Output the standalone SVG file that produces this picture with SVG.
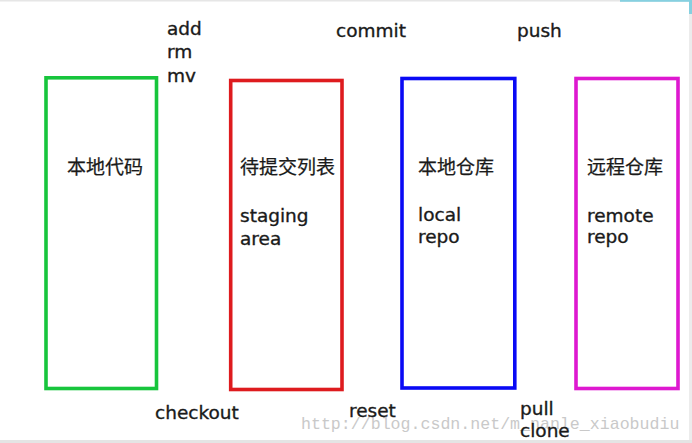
<svg xmlns="http://www.w3.org/2000/svg" width="692" height="443" viewBox="0 0 692 443">
<style>
.box{fill:none;stroke-width:3.6}
.t{font-family:"DejaVu Sans","Noto Sans CJK SC",sans-serif;font-size:18.5px;fill:#1a1a1a;stroke:#1a1a1a;stroke-width:0.35}
.c{font-family:"Noto Sans CJK SC","DejaVu Sans",sans-serif;font-size:19px;fill:#1a1a1a;stroke:#1a1a1a;stroke-width:0.25}
.wm{font-family:"Liberation Mono",monospace;font-size:16.6px;fill:#c9c9c9}
</style>
<rect x="0" y="0" width="692" height="443" fill="#ffffff"/>
<rect x="0" y="0" width="692" height="1.5" fill="#e6e6e6"/>
<rect x="620" y="0" width="72" height="1.8" fill="#86d0e0"/>
<rect x="689" y="0" width="3" height="14" fill="#86d0e0"/>
<rect x="689" y="14" width="3" height="429" fill="#ececec"/>
<rect x="0" y="440" width="692" height="3" fill="#e4e4e4"/>
<g id="local-code">
<rect class="box" x="46" y="77.8" width="110.5" height="310.7" stroke="#17c53c"/>
<text class="c" x="67" y="174">本地代码</text>
</g>
<g id="staging-area">
<rect class="box" x="230.7" y="80.5" width="111.3" height="309" stroke="#de1b1e"/>
<text class="c" x="240" y="174">待提交列表</text>
<text class="t" x="240" y="221.5">staging</text>
<text class="t" x="240" y="245">area</text>
</g>
<g id="local-repo">
<rect class="box" x="402" y="78.5" width="112.8" height="309.5" stroke="#0a0af5"/>
<text class="c" x="418" y="174">本地仓库</text>
<text class="t" x="418" y="220.7">local</text>
<text class="t" x="418" y="243.3">repo</text>
</g>
<g id="remote-repo">
<rect class="box" x="576" y="78.5" width="102" height="310" stroke="#de18d0"/>
<text class="c" x="587" y="174">远程仓库</text>
<text class="t" x="587" y="221.7">remote</text>
<text class="t" x="587" y="243.3">repo</text>
</g>
<g id="connectors">
<text class="t" x="167" y="35">add</text>
<text class="t" x="167" y="58.3">rm</text>
<text class="t" x="167" y="81.7">mv</text>
<text class="t" x="336" y="37.3">commit</text>
<text class="t" x="517" y="37.3">push</text>
<text class="wm" x="301" y="428.5">http://blog.csdn.net/m_nanle_xiaobudiu</text>
<text class="t" x="155" y="419.3">checkout</text>
<text class="t" x="349" y="416.7">reset</text>
<text class="t" x="520" y="415">pull</text>
<text class="t" x="520" y="436.7">clone</text>
</g>
</svg>
